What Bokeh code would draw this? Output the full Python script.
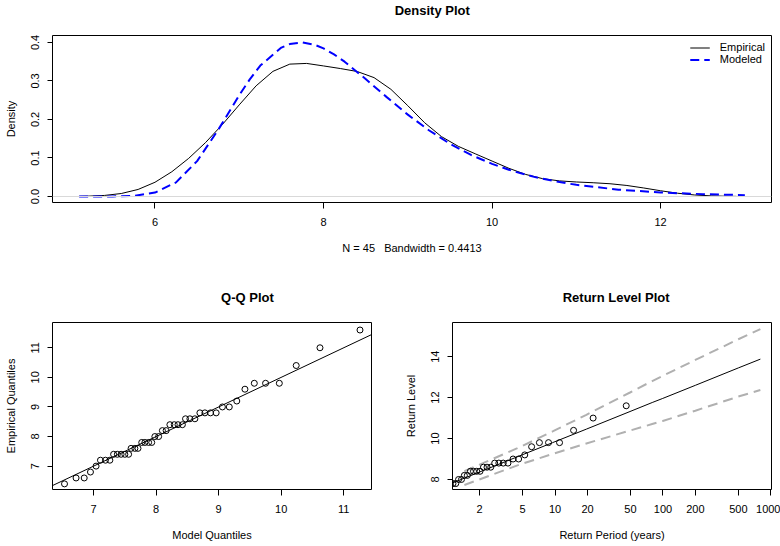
from bokeh.plotting import figure
from bokeh.layouts import column, row
from bokeh.models import (Range1d, FixedTicker, PrintfTickFormatter, Span, Slope, Legend,
                          LegendItem)
from bokeh.core.properties import value
from bokeh.embed import file_html
from bokeh.resources import INLINE

FONT = "Liberation Sans"

# ---------------- data ----------------
# Density plot: empirical kernel density (black) and modeled density (blue dashed)
emp_x = [5.1, 5.2, 5.4, 5.6, 5.8, 6.0, 6.2, 6.4, 6.6, 6.8, 7.0, 7.2, 7.4, 7.6, 7.8,
         8.0, 8.2, 8.4, 8.6, 8.8, 9.0, 9.2, 9.4, 9.6, 9.8, 10.0, 10.2, 10.4, 10.6,
         10.8, 11.0, 11.2, 11.4, 11.6, 11.8, 12.0, 12.2, 12.4, 12.6, 12.8, 12.9]
emp_y = [0.0003, 0.0008, 0.0027, 0.0077, 0.0183, 0.0369, 0.0642, 0.0990, 0.1400,
         0.1868, 0.2379, 0.2873, 0.3249, 0.3437, 0.3455, 0.3390, 0.3322, 0.3245,
         0.3086, 0.2782, 0.2358, 0.1915, 0.1555, 0.1302, 0.1109, 0.0920, 0.0732,
         0.0572, 0.0463, 0.0405, 0.0377, 0.0357, 0.0331, 0.0286, 0.0221, 0.0149,
         0.0085, 0.0040, 0.0016, 0.0005, 0.0003]
mod_x = [5.1, 5.5, 5.75, 6.0, 6.25, 6.5, 6.75, 7.0, 7.125, 7.25, 7.5, 7.6, 7.75, 7.9,
         8.0, 8.125, 8.25, 8.5, 8.75, 9.0, 9.25, 9.5, 9.75, 10.0, 10.25, 10.5, 10.75,
         11.0, 11.5, 12.0, 12.5, 13.0]
mod_y = [0.0, 0.0002, 0.0017, 0.0102, 0.0366, 0.0919, 0.173, 0.263, 0.304, 0.340,
         0.3866, 0.3957, 0.3998, 0.3935, 0.3845, 0.369, 0.350, 0.305, 0.258, 0.2126,
         0.172, 0.137, 0.108, 0.0847, 0.0658, 0.0509, 0.0393, 0.0302, 0.0177, 0.0104,
         0.0061, 0.0035]

# Q-Q plot
qq_model = [6.535, 6.72, 6.85, 6.95, 7.04, 7.11, 7.19, 7.26, 7.32, 7.38, 7.44, 7.50,
            7.56, 7.60, 7.66, 7.71, 7.77, 7.82, 7.88, 7.93, 7.98, 8.04, 8.10, 8.16,
            8.22, 8.29, 8.35, 8.42, 8.47, 8.54, 8.62, 8.70, 8.78, 8.87, 8.96, 9.06,
            9.17, 9.29, 9.42, 9.57, 9.75, 9.97, 10.24, 10.62, 11.26]
qq_emp = [6.4, 6.6, 6.6, 6.8, 7.0, 7.2, 7.2, 7.2, 7.4, 7.4, 7.4, 7.4, 7.4, 7.6, 7.6,
          7.6, 7.8, 7.8, 7.8, 7.8, 8.0, 8.0, 8.2, 8.2, 8.4, 8.4, 8.4, 8.4, 8.6, 8.6,
          8.6, 8.8, 8.8, 8.8, 8.8, 9.0, 9.0, 9.2, 9.6, 9.8, 9.8, 9.8, 10.4, 11.0, 11.6]

# Return level plot
rl_pts_period = [0.261, 0.319, 0.366, 0.409, 0.451, 0.491, 0.531, 0.572, 0.613, 0.655,
                 0.699, 0.744, 0.791, 0.841, 0.892, 0.947, 1.005, 1.066, 1.131, 1.201,
                 1.275, 1.356, 1.443, 1.537, 1.640, 1.753, 1.877, 2.015, 2.168, 2.340,
                 2.534, 2.756, 3.011, 3.309, 3.659, 4.080, 4.593, 5.236, 6.061, 7.158,
                 8.696, 11.00, 14.84, 22.52, 45.66]
rl_pts_level = qq_emp
rl_period = [1.05, 1.443, 4.48, 9.49, 19.5, 49.5, 79.5, 99.5, 199.5, 499.5, 799.5]
rl_level = [7.77, 8.065, 9.11, 9.80, 10.46, 11.32, 11.76, 11.96, 12.60, 13.45, 13.88]
ci_period = [1.443, 4.48, 9.49, 19.5, 49.5, 79.5, 99.5, 199.5, 499.5, 799.5]
ci_upper = [8.40, 9.53, 10.35, 11.16, 12.25, 12.81, 13.06, 13.84, 14.85, 15.35]
ci_lower = [7.73, 8.69, 9.25, 9.76, 10.39, 10.71, 10.86, 11.36, 12.05, 12.37]

titles_top = ["Density Plot"]
titles_bottom = ["Q-Q Plot", "Return Level Plot"]
dens_xticks = [6, 8, 10, 12]
dens_yticks = [0.0, 0.1, 0.2, 0.3, 0.4]
qq_ticks = [7, 8, 9, 10, 11]
rl_xticks = [2, 5, 10, 20, 50, 100, 200, 500, 1000]
rl_yticks = [8, 10, 12, 14]

FRAME_H = 167


def title_strip(height, xs, y, texts):
    t = figure(width=780, height=height, x_range=Range1d(0, 780), y_range=Range1d(0, height),
               min_border=0, x_axis_location=None, y_axis_location=None,
               output_backend="svg", toolbar_location=None)
    t.outline_line_color = None
    t.grid.visible = False
    t.background_fill_color = "white"
    t.border_fill_color = "white"
    t.text(x=xs, y=[y] * len(xs), text=texts, text_align="center", text_baseline="middle",
           text_font=value(FONT), text_font_size="13px", text_font_style="bold",
           text_color="black")
    return t


def style(p, xticks, yticks):
    p.outline_line_color = "black"
    p.outline_line_width = 1
    p.outline_line_alpha = 1.0
    p.background_fill_color = "white"
    p.border_fill_color = "white"
    p.xgrid.visible = False
    p.ygrid.visible = False
    for ax in p.xaxis + p.yaxis:
        ax.axis_line_color = None
        ax.major_tick_line_color = "black"
        ax.major_tick_in = 0
        ax.minor_tick_line_color = None
        ax.major_label_text_font = FONT
        ax.major_label_text_font_size = "11px"
        ax.major_label_text_color = "black"
        ax.axis_label_text_font = FONT
        ax.axis_label_text_font_size = "11px"
        ax.axis_label_text_font_style = "normal"
        ax.axis_label_text_color = "black"
    p.xaxis.ticker = FixedTicker(ticks=xticks, minor_ticks=[])
    p.yaxis.ticker = FixedTicker(ticks=yticks, minor_ticks=[])
    p.xaxis.major_tick_out = 6
    p.yaxis.major_tick_out = 5
    p.xaxis.major_label_standoff = 9
    p.xaxis.axis_label_standoff = 13
    p.yaxis.major_label_standoff = 8
    p.yaxis.axis_label_standoff = 12
    p.yaxis.major_label_orientation = "vertical"


# ---------------- title strip (top) ----------------
t1 = title_strip(22, [412], 12.5, titles_top)

# ---------------- Density plot ----------------
p1 = figure(frame_width=719, frame_height=FRAME_H, min_border_left=52, min_border_right=9,
            min_border_top=13, min_border_bottom=78,
            x_range=Range1d(4.784, 13.316), y_range=Range1d(-0.0156, 0.418),
            output_backend="svg", toolbar_location=None,
            x_axis_label="N = 45 \u00a0 Bandwidth = 0.4413", y_axis_label="Density")
style(p1, dens_xticks, dens_yticks)
p1.yaxis.formatter = PrintfTickFormatter(format="%.1f")
p1.add_layout(Span(location=0, dimension="width", line_color="#d9d9d9", line_width=1))
r_emp = p1.line(emp_x, emp_y, line_color="black", line_width=1)
r_mod = p1.line(mod_x, mod_y, line_color="#0000ff", line_width=2, line_dash="9 5")
leg = Legend(items=[LegendItem(label="Empirical", renderers=[r_emp]),
                    LegendItem(label="Modeled", renderers=[r_mod])],
             location="top_right", border_line_color=None, background_fill_alpha=0,
             margin=6, padding=2, spacing=0, glyph_width=20, glyph_height=11,
             label_height=11, label_standoff=10, label_text_font=FONT,
             label_text_font_size="11px", label_text_color="black")
p1.add_layout(leg)

# ---------------- title strip (bottom) ----------------
t2 = title_strip(30, [211.5, 611.5], 13, titles_bottom)

# ---------------- Q-Q plot ----------------
p2 = figure(frame_width=319, frame_height=FRAME_H, min_border_left=52, min_border_right=19,
            min_border_top=12, min_border_bottom=56,
            x_range=Range1d(6.343, 11.444), y_range=Range1d(6.21, 11.854),
            output_backend="svg", toolbar_location=None,
            x_axis_label="Model Quantiles", y_axis_label="Empirical Quantiles")
style(p2, qq_ticks, qq_ticks)
p2.add_layout(Slope(gradient=1, y_intercept=0, line_color="black", line_width=1))
p2.scatter(qq_model, qq_emp, marker="circle", size=6, fill_color=None,
           line_color="black", line_width=1)

# ---------------- Return level plot ----------------
p3 = figure(frame_width=319, frame_height=FRAME_H, min_border_left=62, min_border_right=9,
            min_border_top=12, min_border_bottom=56, x_axis_type="log",
            x_range=Range1d(1.12, 1014), y_range=Range1d(7.51, 15.67),
            output_backend="svg", toolbar_location=None,
            x_axis_label="Return Period (years)", y_axis_label="Return Level")
style(p3, rl_xticks, rl_yticks)
p3.xaxis.major_label_overrides = {t: str(t) for t in rl_xticks}
p3.line(ci_period, ci_upper, line_color="#b0b0b0", line_width=2, line_dash="10 6")
p3.line(ci_period, ci_lower, line_color="#b0b0b0", line_width=2, line_dash="10 6")
p3.line(rl_period, rl_level, line_color="black", line_width=1)
p3.scatter(rl_pts_period, rl_pts_level, marker="circle", size=6, fill_color=None,
           line_color="black", line_width=1)

layout = column(t1, p1, t2, row(p2, p3, spacing=0), spacing=0)
open("out.html", "w").write(file_html(layout, INLINE))
